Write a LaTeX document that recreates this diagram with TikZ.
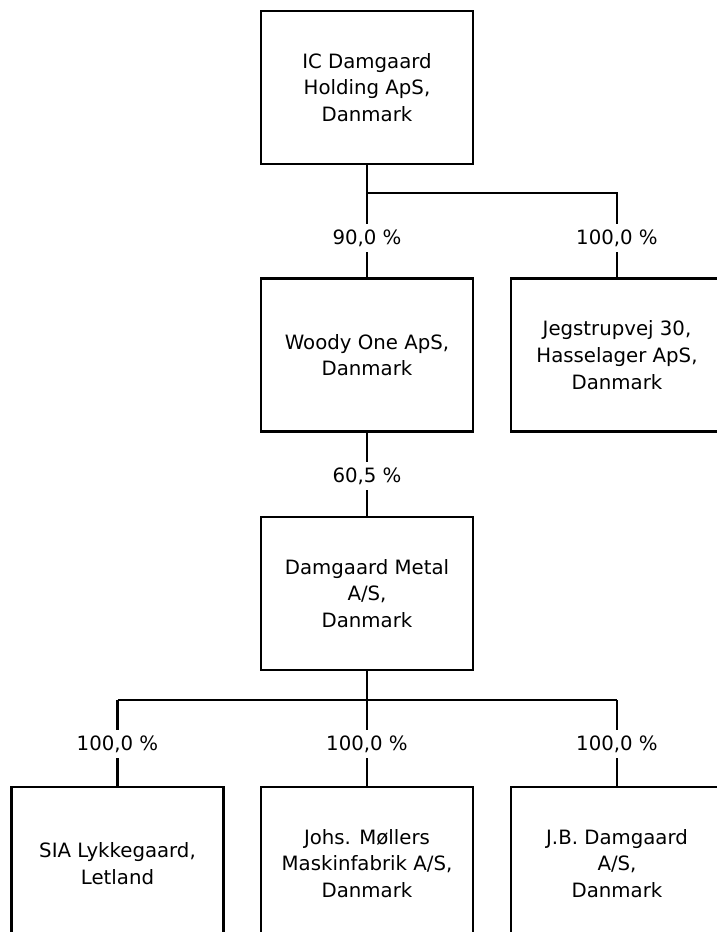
\documentclass[tikz,border=0pt]{standalone}
\usepackage{fontspec}
\setmainfont{DejaVu Sans}
\begin{document}
\begin{tikzpicture}[x=0.75pt,y=-0.75pt,
  company/.style={draw,line width=1.6pt,minimum width=159pt,minimum height=114.75pt,align=center,inner sep=0pt,font=\fontsize{14.8}{20}\selectfont},
  pct/.style={fill=white,inner xsep=1pt,minimum height=21pt,font=\fontsize{14.8}{20}\selectfont},
  link/.style={line width=1.6pt}]
\useasboundingbox (0,0) rectangle (717,932);
\clip (0,0) rectangle (717,932);
\node[company] (top) at (367,87.5) {IC Damgaard\\Holding ApS,\\Danmark};
\node[company] (woody) at (367,355) {Woody One ApS,\\Danmark};
\node[company] (jeg) at (617,355) {Jegstrupvej 30,\\Hasselager ApS,\\Danmark};
\node[company] (metal) at (367,593.5) {Damgaard Metal\\A/S,\\Danmark};
\node[company] (sia) at (117.5,863.5) {SIA Lykkegaard,\\Letland};
\node[company] (johs) at (367,863.5) {Johs. Møllers\\Maskinfabrik A/S,\\Danmark};
\node[company] (jb) at (617,863.5) {J.B. Damgaard\\A/S,\\Danmark};
\coordinate (j1) at (367,193);
\coordinate (j1r) at (617,193);
\coordinate (j2) at (367,700);
\coordinate (j2l) at (117.5,700);
\coordinate (j2r) at (617,700);
\draw[link] (top.south) -- (j1) -- (woody.north);
\draw[link] (j1) -- (j1r) -- (jeg.north);
\draw[link] (woody.south) -- (metal.north);
\draw[link] (metal.south) -- (j2) -- (johs.north);
\draw[link] (j2l) -- (j2r);
\draw[link] (j2l) -- (sia.north);
\draw[link] (j2r) -- (jb.north);
\node[pct] (p1) at (367,238) {90,0 \%};
\node[pct] (p2) at (617,238) {100,0 \%};
\node[pct] (p3) at (367,476) {60,5 \%};
\node[pct] (p4) at (117.5,744) {100,0 \%};
\node[pct] (p5) at (367,744) {100,0 \%};
\node[pct] (p6) at (617,744) {100,0 \%};
\end{tikzpicture}
\end{document}
